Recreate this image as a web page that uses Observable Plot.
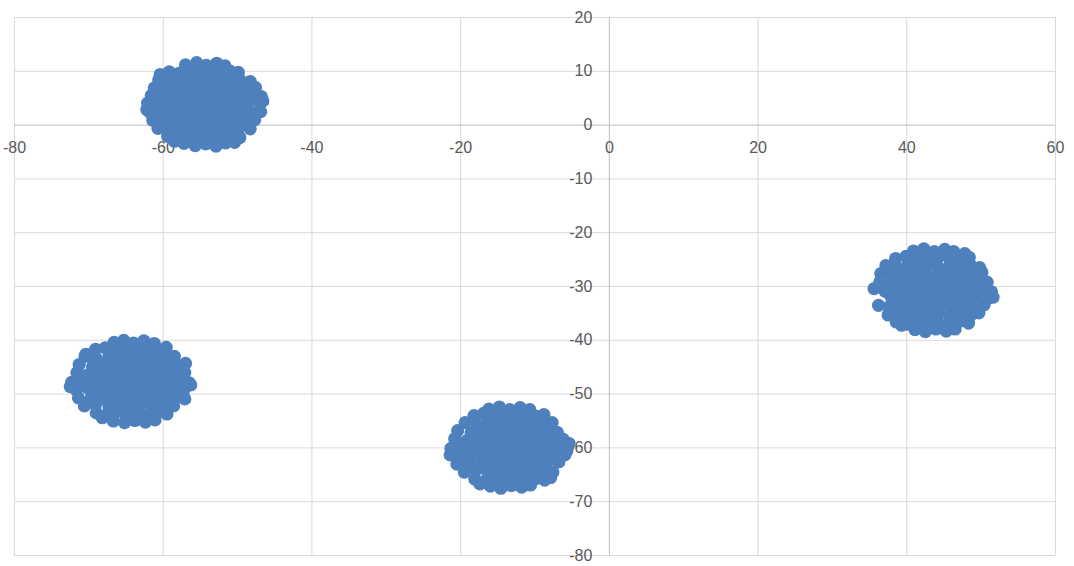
<!DOCTYPE html>
<html>
<head>
<meta charset="utf-8">
<script src="https://cdn.jsdelivr.net/npm/d3@7"></script>
<script src="https://cdn.jsdelivr.net/npm/@observablehq/plot@0.6"></script>
<style>
  html, body { margin: 0; padding: 0; background: #fff; }
  svg { display: block; }
</style>
</head>
<body>
<script>
const xTicks = [-80, -60, -40, -20, 0, 20, 40, 60];
const yTicks = [20, 10, 0, -10, -20, -30, -40, -50, -60, -70, -80];

const clusterA = [
  [-62.1,4.1],[-60.7,3.6],[-59.5,4.2],[-58.0,3.7],[-56.8,4.0],[-55.3,3.6],[-54.1,4.2],[-52.6,3.8],[-51.4,3.5],[-49.9,4.1],[-48.7,3.7],[-47.0,4.0],
  [-61.6,5.5],[-60.1,5.2],[-58.8,5.6],[-57.4,5.3],[-56.1,5.5],[-54.7,5.1],[-53.4,5.6],[-52.0,5.3],[-50.7,5.5],[-49.3,5.2],[-47.9,5.6],[-46.8,5.3],
  [-61.8,2.4],[-60.2,2.2],[-58.7,2.5],[-57.5,2.1],[-56.1,2.4],[-54.6,2.6],[-53.3,2.2],[-52.0,2.5],[-50.6,2.1],[-49.2,2.4],[-48.0,2.2],[-46.9,2.5],
  [-61.2,6.9],[-59.9,6.6],[-58.6,7.1],[-57.2,6.8],[-55.9,7.0],[-54.5,6.6],[-53.2,7.1],[-51.8,6.8],[-50.5,6.9],[-49.1,6.6],[-47.6,7.0],
  [-61.4,0.9],[-60.0,0.6],[-58.7,1.0],[-57.3,0.7],[-55.8,0.9],[-54.5,0.6],[-53.1,1.0],[-51.9,0.7],[-50.4,0.9],[-49.1,0.6],[-47.7,1.0],
  [-60.6,8.4],[-59.2,8.1],[-57.9,8.6],[-56.5,8.3],[-55.1,8.5],[-53.8,8.1],[-52.4,8.5],[-51.1,8.2],[-49.7,8.4],[-48.3,8.1],
  [-60.7,-0.6],[-59.3,-0.9],[-57.9,-0.5],[-56.5,-0.8],[-55.2,-0.5],[-53.8,-0.9],[-52.5,-0.6],[-51.1,-0.8],[-49.8,-0.5],[-48.3,-0.7],
  [-59.2,9.9],[-57.9,9.6],[-56.5,10.1],[-55.2,9.8],[-53.9,10.0],[-52.5,9.7],[-51.1,10.1],[-49.9,9.8],
  [-59.4,-2.1],[-58.0,-2.4],[-56.6,-2.0],[-55.3,-2.3],[-53.9,-2.1],[-52.6,-2.4],[-51.2,-2.0],[-49.7,-2.3],
  [-57.0,11.2],[-55.5,11.6],[-54.2,11.1],[-52.8,11.5],[-51.7,11.0],
  [-57.2,-3.4],[-55.7,-3.8],[-54.3,-3.5],[-52.9,-3.9],[-51.6,-3.3],
  [-62.2,2.9],[-46.6,4.5],[-58.5,-3.0],[-50.4,-3.2],[-60.4,9.4],
  [-59.9,1.6],[-55.0,1.6],[-50.1,1.6],[-57.6,4.6],[-52.4,4.6],[-55.0,7.7],[-58.2,7.7],[-51.2,7.6],[-56.0,-1.4],[-52.2,-1.4],[-60.2,4.6],[-48.4,4.7]
];

const clusterB = [
  [-72.3,-47.8],[-70.9,-47.3],[-69.4,-47.9],[-68.0,-47.4],[-66.6,-47.7],[-65.1,-47.3],[-63.7,-47.9],[-62.3,-47.5],[-60.8,-47.8],[-59.4,-47.3],[-58.0,-47.7],[-56.5,-47.9],
  [-71.6,-46.0],[-70.1,-46.4],[-68.7,-45.9],[-67.2,-46.2],[-65.8,-46.0],[-64.4,-46.4],[-62.9,-45.9],[-61.5,-46.2],[-60.0,-45.9],[-58.6,-46.3],[-57.1,-46.0],
  [-71.7,-49.2],[-70.2,-48.8],[-68.8,-49.3],[-67.3,-48.9],[-65.9,-49.2],[-64.5,-48.8],[-63.0,-49.3],[-61.6,-48.9],[-60.1,-49.2],[-58.7,-48.8],[-57.2,-49.1],
  [-71.3,-44.5],[-69.5,-44.9],[-68.1,-44.4],[-66.6,-44.7],[-65.2,-44.5],[-63.8,-44.9],[-62.3,-44.4],[-60.9,-44.7],[-59.4,-44.5],[-57.9,-44.8],[-57.0,-44.3],
  [-71.4,-50.7],[-69.6,-50.4],[-68.1,-50.8],[-66.7,-50.5],[-65.2,-50.7],[-63.7,-50.3],[-62.3,-50.8],[-60.9,-50.5],[-59.4,-50.7],[-58.0,-50.4],[-57.1,-50.9],
  [-70.5,-43.0],[-69.0,-43.4],[-67.3,-42.9],[-65.8,-43.2],[-64.4,-43.0],[-62.9,-43.4],[-61.5,-42.9],[-60.0,-43.2],[-58.5,-43.0],
  [-70.6,-52.2],[-69.1,-51.9],[-67.3,-52.3],[-65.9,-52.0],[-64.4,-52.2],[-63.0,-51.8],[-61.5,-52.3],[-60.0,-52.0],[-58.6,-52.2],
  [-69.1,-41.7],[-67.8,-41.4],[-66.5,-41.8],[-65.1,-41.3],[-63.7,-41.7],[-62.3,-41.4],[-60.8,-41.8],[-59.6,-41.3],
  [-69.0,-53.5],[-67.7,-53.9],[-66.4,-53.4],[-65.0,-53.8],[-63.6,-53.5],[-62.2,-53.9],[-60.8,-53.4],[-59.5,-53.7],
  [-66.6,-40.4],[-65.3,-40.0],[-64.0,-40.5],[-62.6,-40.1],[-61.2,-40.6],
  [-66.7,-55.0],[-65.2,-55.3],[-63.8,-54.9],[-62.4,-55.2],[-61.1,-54.8],
  [-72.5,-48.6],[-56.3,-48.3],[-60.2,-41.9],[-68.2,-54.4],[-70.4,-42.6],
  [-66.0,-42.3],[-62.2,-42.4],[-68.4,-48.5],[-64.1,-48.4],[-59.8,-48.6],[-70.0,-51.4],[-65.6,-51.4],[-61.3,-51.4],[-64.3,-45.2],[-68.6,-45.2],[-60.0,-45.1],[-64.2,-54.2]
];

const clusterC = [
  [-21.3,-60.1],[-19.9,-59.6],[-18.4,-60.2],[-17.0,-59.7],[-15.6,-60.0],[-14.2,-59.6],[-12.8,-60.2],[-11.3,-59.8],[-9.9,-60.1],[-8.5,-59.6],[-7.1,-60.0],[-5.7,-60.5],
  [-20.8,-58.3],[-19.2,-58.7],[-17.7,-58.2],[-16.3,-58.5],[-14.9,-58.3],[-13.5,-58.7],[-12.1,-58.2],[-10.6,-58.5],[-9.2,-58.3],[-7.8,-58.7],[-6.2,-58.4],
  [-20.7,-61.5],[-19.2,-61.1],[-17.8,-61.6],[-16.3,-61.2],[-14.9,-61.5],[-13.5,-61.1],[-12.0,-61.6],[-10.6,-61.2],[-9.2,-61.5],[-7.8,-61.1],[-6.0,-61.3],
  [-20.4,-56.8],[-18.6,-57.2],[-17.0,-56.7],[-15.6,-57.0],[-14.2,-56.8],[-12.8,-57.2],[-11.3,-56.7],[-9.9,-57.0],[-8.5,-56.8],[-7.0,-57.1],
  [-20.5,-63.0],[-18.8,-62.6],[-17.0,-63.1],[-15.6,-62.7],[-14.2,-63.0],[-12.7,-62.6],[-11.3,-63.1],[-9.9,-62.7],[-8.5,-63.0],[-6.8,-62.6],
  [-19.4,-55.3],[-17.8,-55.7],[-16.3,-55.2],[-14.9,-55.5],[-13.5,-55.3],[-12.1,-55.7],[-10.6,-55.2],[-9.2,-55.5],[-7.7,-55.3],
  [-19.5,-64.5],[-17.9,-64.1],[-16.3,-64.6],[-14.9,-64.2],[-13.5,-64.5],[-12.0,-64.1],[-10.6,-64.6],[-9.2,-64.2],[-7.6,-64.5],
  [-18.2,-54.0],[-16.9,-53.6],[-15.5,-54.1],[-14.2,-53.6],[-12.8,-54.0],[-11.3,-53.7],[-9.9,-54.1],[-8.8,-53.8],
  [-18.1,-65.8],[-16.8,-66.2],[-15.5,-65.7],[-14.1,-66.1],[-12.7,-65.8],[-11.3,-66.2],[-9.9,-65.7],[-8.7,-66.0],
  [-16.2,-52.8],[-14.8,-52.4],[-13.4,-52.9],[-12.0,-52.5],[-10.7,-52.9],
  [-16.0,-67.1],[-14.6,-67.5],[-13.2,-67.0],[-11.8,-67.3],[-10.6,-66.9],
  [-21.4,-61.3],[-5.4,-59.2],[-17.4,-66.7],[-7.9,-65.5],
  [-18.1,-59.0],[-13.9,-59.0],[-9.6,-59.0],[-16.0,-62.0],[-11.8,-62.0],[-7.5,-62.0],[-17.2,-56.0],[-12.9,-56.0],[-8.6,-56.0],[-15.0,-65.0],[-10.9,-65.0],[-19.9,-62.2]
];

const clusterD = [
  [35.6,-30.4],[37.1,-30.9],[38.5,-30.3],[39.9,-30.8],[41.4,-30.5],[42.8,-30.9],[44.2,-30.4],[45.7,-30.8],[47.1,-30.5],[48.5,-30.9],[50.0,-30.4],[51.4,-31.0],
  [36.4,-29.1],[37.8,-29.5],[39.2,-29.0],[40.7,-29.3],[42.1,-29.1],[43.5,-29.5],[45.0,-29.0],[46.4,-29.3],[47.8,-29.1],[49.3,-29.5],[50.8,-29.2],
  [37.9,-31.9],[39.3,-32.4],[40.7,-32.0],[42.1,-32.3],[43.6,-31.9],[45.0,-32.4],[46.4,-32.0],[47.9,-32.3],[49.3,-31.9],[50.9,-32.2],
  [36.5,-27.6],[38.0,-28.0],[39.5,-27.5],[41.0,-27.8],[42.5,-27.6],[44.0,-28.0],[45.5,-27.5],[47.0,-27.8],[48.5,-27.6],[50.1,-27.4],
  [36.2,-33.5],[37.6,-33.8],[38.9,-33.4],[40.3,-33.9],[41.7,-33.5],[43.1,-33.8],[44.6,-33.4],[46.0,-33.9],[47.4,-33.5],[48.8,-33.8],[50.4,-33.4],
  [37.2,-26.1],[38.6,-26.5],[40.1,-26.0],[41.5,-26.3],[42.9,-26.1],[44.3,-26.5],[45.8,-26.0],[47.2,-26.3],[48.6,-26.1],[49.8,-26.5],
  [37.5,-35.3],[38.7,-34.9],[40.1,-35.4],[41.5,-35.0],[42.9,-35.3],[44.4,-34.9],[45.8,-35.4],[47.2,-35.0],[48.6,-35.3],[49.7,-34.9],
  [38.5,-24.8],[39.9,-24.4],[41.3,-24.9],[42.7,-24.5],[44.1,-24.8],[45.5,-24.4],[46.9,-24.9],[48.4,-24.6],
  [38.6,-36.6],[40.0,-37.0],[41.4,-36.5],[42.8,-36.9],[44.2,-36.6],[45.6,-37.0],[47.0,-36.5],[48.3,-36.8],
  [40.9,-23.4],[42.3,-23.0],[43.7,-23.5],[45.1,-23.1],[46.3,-23.5],
  [41.1,-38.0],[42.5,-38.4],[43.9,-37.9],[45.3,-38.3],[46.5,-37.9],
  [51.6,-32.0],[39.3,-37.2],[47.8,-23.9],
  [38.8,-31.6],[43.1,-31.6],[47.4,-31.7],[40.8,-28.3],[45.1,-28.3],[49.3,-28.4],[42.1,-34.6],[46.4,-34.6],[39.4,-34.5],[43.6,-25.4],[47.6,-25.4],[43.3,-36.0]
];

const points = [...clusterA, ...clusterB, ...clusterC, ...clusterD].map(([x, y]) => ({x, y}));

const fontFamily = "'Liberation Sans', Arial, sans-serif";

const chart = Plot.plot({
  width: 1074,
  height: 566,
  marginLeft: 14,
  marginRight: 19,
  marginTop: 17,
  marginBottom: 11,
  style: {background: "#ffffff", fontFamily, overflow: "visible"},
  x: {domain: [-80, 60], axis: null},
  y: {domain: [-80, 20], axis: null},
  marks: [
    Plot.ruleX(xTicks.filter(d => d !== 0), {x: d => d, stroke: "#d9d9d9", strokeWidth: 1}),
    Plot.ruleY(yTicks.filter(d => d !== 0), {y: d => d, stroke: "#d9d9d9", strokeWidth: 1}),
    Plot.ruleX([0], {stroke: "#bfbfbf", strokeWidth: 1}),
    Plot.ruleY([0], {stroke: "#bfbfbf", strokeWidth: 1}),
    Plot.text(yTicks, {x: 0, y: d => d, text: d => String(d), dx: -17, textAnchor: "end", fill: "#595959", fontSize: 16}),
    Plot.text(xTicks, {x: d => d, y: 0, text: d => String(d), dy: 23, textAnchor: "middle", fill: "#595959", fontSize: 16}),
    Plot.dot(points, {x: "x", y: "y", r: 6.6, fill: "#4e80bd", stroke: "none"})
  ]
});
document.body.appendChild(chart);
</script>
</body>
</html>
